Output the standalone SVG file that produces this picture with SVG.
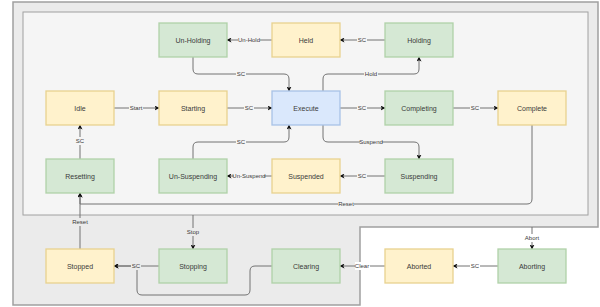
<svg xmlns="http://www.w3.org/2000/svg" width="600" height="307" viewBox="0 0 600 307">
<style>
text{font-family:"Liberation Sans",Arial,sans-serif;fill:#3a3a3a;text-anchor:middle;dominant-baseline:central}
.n{font-size:7px}
.l{font-size:6px}
.y{fill:#fff2cc;stroke:#e8d28f;stroke-width:1.3}
.g{fill:#d5e8d4;stroke:#b0d1a8;stroke-width:1.3}
.b{fill:#dae8fc;stroke:#a8c2e6;stroke-width:1.3}
.e{fill:none;stroke:#737373;stroke-width:1}
.bg1{fill:#f5f5f5}
.bg2{fill:#ebebeb}
.bg3{fill:#ffffff}
</style>
<defs>
<marker id="a" viewBox="0 0 10 10" refX="9" refY="5" markerWidth="5" markerHeight="5" orient="auto" markerUnits="userSpaceOnUse">
<path d="M0,0 L10,5 L0,10 L2.5,5 Z" fill="#111"/>
</marker>
</defs>
<g id="regions">
<path d="M13,2 H598 V227 H360 V305 H13 Z" fill="#ebebeb" stroke="#a0a0a0" stroke-width="1.5"/>
<rect x="23" y="12" width="565" height="203" fill="#f5f5f5" stroke="#a0a0a0" stroke-width="1"/>
</g>
<g id="connectors">
<path class="e" d="M272,40 H227" marker-end="url(#a)"/>
<rect class="bg1" x="238" y="36" width="22" height="8"/><text class="l" x="249" y="40">Un-Hold</text>
<path class="e" d="M385,40 H340" marker-end="url(#a)"/>
<rect class="bg1" x="357" y="36" width="10" height="8"/><text class="l" x="362" y="40">SC</text>
<path class="e" d="M193,57 V69 Q193,74 198,74 H284 Q289,74 289,79 V91" marker-end="url(#a)"/>
<rect class="bg1" x="236" y="70" width="10" height="8"/><text class="l" x="241" y="74">SC</text>
<path class="e" d="M114,108 H159" marker-end="url(#a)"/>
<rect class="bg1" x="129" y="104" width="14" height="8"/><text class="l" x="136" y="108">Start</text>
<path class="e" d="M227,108 H272" marker-end="url(#a)"/>
<rect class="bg1" x="244" y="104" width="10" height="8"/><text class="l" x="249" y="108">SC</text>
<path class="e" d="M323,91 V79 Q323,74 328,74 H414 Q419,74 419,69 V57" marker-end="url(#a)"/>
<rect class="bg1" x="364" y="70" width="14" height="8"/><text class="l" x="371" y="74">Hold</text>
<path class="e" d="M340,108 H385" marker-end="url(#a)"/>
<rect class="bg1" x="357" y="104" width="10" height="8"/><text class="l" x="362" y="108">SC</text>
<path class="e" d="M453,108 H498" marker-end="url(#a)"/>
<rect class="bg1" x="470" y="104" width="10" height="8"/><text class="l" x="475" y="108">SC</text>
<path class="e" d="M323,125 V137 Q323,142 328,142 H414 Q419,142 419,147 V159" marker-end="url(#a)"/>
<rect class="bg1" x="360" y="138" width="22" height="8"/><text class="l" x="371" y="142">Suspend</text>
<path class="e" d="M385,176 H340" marker-end="url(#a)"/>
<rect class="bg1" x="357" y="172" width="10" height="8"/><text class="l" x="362" y="176">SC</text>
<path class="e" d="M272,176 H227" marker-end="url(#a)"/>
<rect class="bg1" x="234" y="172" width="30" height="8"/><text class="l" x="249" y="176">Un-Suspend</text>
<path class="e" d="M193,159 V147 Q193,142 198,142 H284 Q289,142 289,137 V125" marker-end="url(#a)"/>
<rect class="bg1" x="236" y="138" width="10" height="8"/><text class="l" x="241" y="142">SC</text>
<path class="e" d="M80,159 V125" marker-end="url(#a)"/>
<rect class="bg1" x="75" y="137" width="10" height="8"/><text class="l" x="80" y="141">SC</text>
<path class="e" d="M532,125 V199 Q532,204 527,204 H80 V193" marker-end="url(#a)"/>
<rect class="bg1" x="338" y="200" width="16" height="8"/><text class="l" x="346" y="204">Reset</text>
<path class="e" d="M80,249 V193" marker-end="url(#a)"/>
<rect class="bg2" x="72" y="218" width="16" height="8"/><text class="l" x="80" y="222">Reset</text>
<path class="e" d="M193,215 V249" marker-end="url(#a)"/>
<rect class="bg2" x="186" y="228" width="14" height="8"/><text class="l" x="193" y="232">Stop</text>
<path class="e" d="M159,266 H114" marker-end="url(#a)"/>
<path class="e" d="M272,266 H255 Q250,266 250,271 V290 Q250,295 245,295 H142 Q137,295 137,290 V266 H114" marker-end="url(#a)"/>
<rect class="bg2" x="131" y="262" width="10" height="8"/><text class="l" x="136" y="266">SC</text>
<path class="e" d="M385,266 H340" marker-end="url(#a)"/>
<rect class="bg3" x="355" y="262" width="15" height="8"/><text class="l" x="362" y="266">Clear</text>
<path class="e" d="M498,266 H453" marker-end="url(#a)"/>
<rect class="bg3" x="470" y="262" width="10" height="8"/><text class="l" x="475" y="266">SC</text>
<path class="e" d="M532,227 V249" marker-end="url(#a)"/>
<rect class="bg3" x="524" y="234" width="16" height="8"/><text class="l" x="532" y="238">Abort</text>
</g>
<g id="un-holding"><rect class="g" x="159" y="23" width="68" height="34"/><text class="n" x="193" y="40">Un-Holding</text></g>
<g id="held"><rect class="y" x="272" y="23" width="68" height="34"/><text class="n" x="306" y="40">Held</text></g>
<g id="holding"><rect class="g" x="385" y="23" width="68" height="34"/><text class="n" x="419" y="40">Holding</text></g>
<g id="idle"><rect class="y" x="46" y="91" width="68" height="34"/><text class="n" x="80" y="108">Idle</text></g>
<g id="starting"><rect class="y" x="159" y="91" width="68" height="34"/><text class="n" x="193" y="108">Starting</text></g>
<g id="execute"><rect class="b" x="272" y="91" width="68" height="34"/><text class="n" x="306" y="108">Execute</text></g>
<g id="completing"><rect class="g" x="385" y="91" width="68" height="34"/><text class="n" x="419" y="108">Completing</text></g>
<g id="complete"><rect class="y" x="498" y="91" width="68" height="34"/><text class="n" x="532" y="108">Complete</text></g>
<g id="resetting"><rect class="g" x="46" y="159" width="68" height="34"/><text class="n" x="80" y="176">Resetting</text></g>
<g id="un-suspending"><rect class="g" x="159" y="159" width="68" height="34"/><text class="n" x="193" y="176">Un-Suspending</text></g>
<g id="suspended"><rect class="y" x="272" y="159" width="68" height="34"/><text class="n" x="306" y="176">Suspended</text></g>
<g id="suspending"><rect class="g" x="385" y="159" width="68" height="34"/><text class="n" x="419" y="176">Suspending</text></g>
<g id="stopped"><rect class="y" x="46" y="249" width="68" height="34"/><text class="n" x="80" y="266">Stopped</text></g>
<g id="stopping"><rect class="g" x="159" y="249" width="68" height="34"/><text class="n" x="193" y="266">Stopping</text></g>
<g id="clearing"><rect class="g" x="272" y="249" width="68" height="34"/><text class="n" x="306" y="266">Clearing</text></g>
<g id="aborted"><rect class="y" x="385" y="249" width="68" height="34"/><text class="n" x="419" y="266">Aborted</text></g>
<g id="aborting"><rect class="g" x="498" y="249" width="68" height="34"/><text class="n" x="532" y="266">Aborting</text></g>
</svg>
